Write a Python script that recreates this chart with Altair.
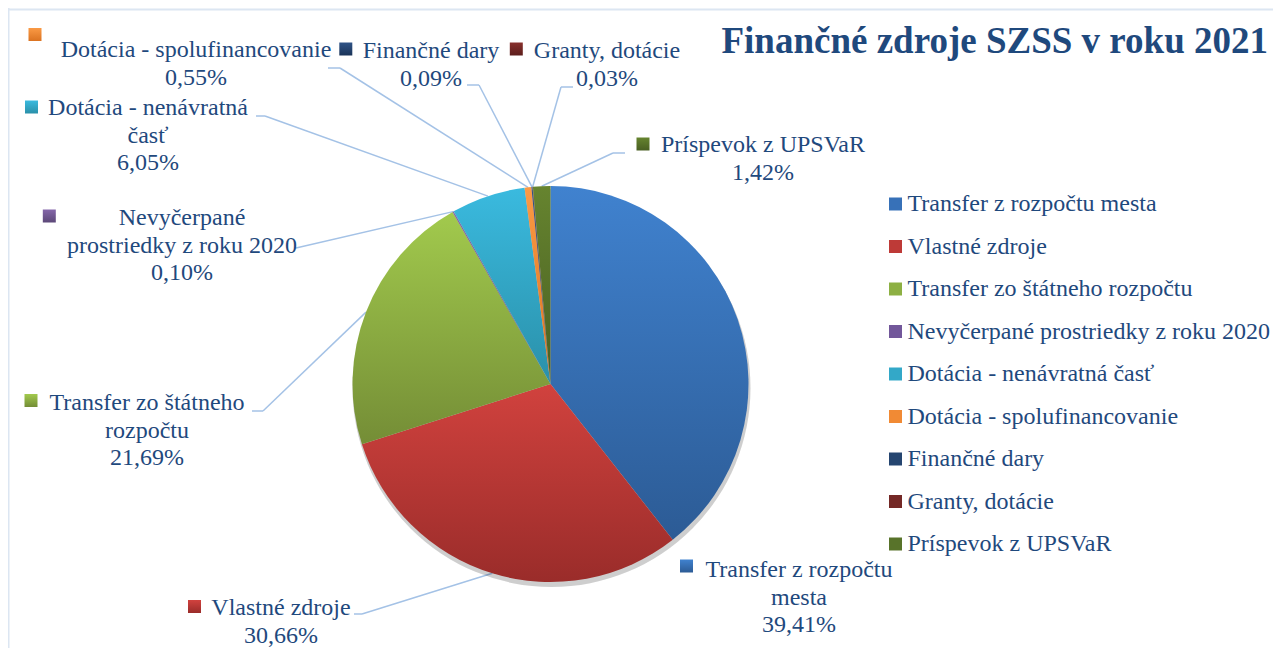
import altair as alt
import pandas as pd

# ---------------- data ----------------
categories = [
    "Transfer z rozpočtu mesta",
    "Vlastné zdroje",
    "Transfer zo štátneho rozpočtu",
    "Nevyčerpané prostriedky z roku 2020",
    "Dotácia - nenávratná časť",
    "Dotácia - spolufinancovanie",
    "Finančné dary",
    "Granty, dotácie",
    "Príspevok z UPSVaR",
]
shares = [39.41, 30.66, 21.69, 0.10, 6.05, 0.55, 0.09, 0.03, 1.42]
title_text = "Finančné zdroje SZSS v roku 2021"

# ---------------- styles ----------------
grad_top = ["#4082CF", "#D1423E", "#A2CA4D", "#8567AA", "#3ABADF", "#FA9A45", "#2F5387", "#88302D", "#66842F"]
grad_bottom = ["#2C5B95", "#9A2C2A", "#748D36", "#5C4878", "#2A90A9", "#DB7321", "#1A3358", "#5C1E1C", "#495F22"]
legend_colors = ["#3771B8", "#BE3A37", "#8DB043", "#72579A", "#33A8C8", "#F18A34", "#254570", "#742826", "#58732A"]
text_color = "#1F497D"
line_color = "#A4C2E6"
font = "Liberation Serif"
label_size = 24

# ---------------- layout (reference page pixels) ----------------
W, H = 1265, 640
cx, cy, R = 550.5, 384.0, 198.0
label_wrapped = [
    "Transfer z rozpočtu\nmesta",
    "Vlastné zdroje",
    "Transfer zo štátneho\nrozpočtu",
    "Nevyčerpané\nprostriedky z roku 2020",
    "Dotácia - nenávratná\nčasť",
    "Dotácia - spolufinancovanie",
    "Finančné dary",
    "Granty, dotácie",
    "Príspevok z UPSVaR",
]
label_x = [799, 281, 147, 182, 148, 196, 431, 607, 763]
label_y = [577, 615, 410, 225, 115, 57, 58, 58, 152]
key_x = [686.5, 194.5, 31, 49.3, 31.5, 35, 345.8, 516.3, 643]
key_y = [566, 606.5, 400.5, 216, 107, 34.5, 49, 49, 144]
elbow_x = [None, 362, 263, 296, 265, 340, 479, 561, 613]
elbow_y = [None, 614, 411, 248, 116, 68, 85, 87, 153]
end_x = [None, 354, 252, 296, 256, 328, 467, 573, 625]
end_y = [None, 614, 411, 248, 116, 68, 85, 87, 153]

df = pd.DataFrame({
    "idx": list(range(len(categories))),
    "cat": categories,
    "v": shares,
    "wrapped": label_wrapped,
    "lx": label_x, "ly": label_y,
    "kx": key_x, "ky": key_y,
    "bx": elbow_x, "by": elbow_y,
    "hx": end_x, "hy": end_y,
})

xs = alt.Scale(domain=[8, 8 + W], nice=False, zero=False)
ys = alt.Scale(domain=[8 + H, 8], nice=False, zero=False)

gradients = [
    {"gradient": "linear", "x1": 0, "y1": 0, "x2": 0, "y2": 1,
     "stops": [{"offset": 0, "color": t}, {"offset": 1, "color": b}]}
    for t, b in zip(grad_top, grad_bottom)
]
conds = [{"test": f"datum.idx === {i}", "value": g} for i, g in enumerate(gradients)]

fill_enc = alt.Fill(
    "cat:N",
    scale=alt.Scale(domain=categories, range=legend_colors),
    legend=alt.Legend(
        title=None, orient="none", legendX=875.5, legendY=184,
        labelFont=font, labelFontSize=label_size, labelColor=text_color, labelLimit=600,
        symbolType="square", symbolSize=169, symbolStrokeWidth=0,
        rowPadding=18.5, labelOffset=0, padding=0,
    ),
    condition=conds,
)

base = alt.Chart(df)

shadow_df = pd.DataFrame({"k": [0, 1], "dy": [3, 5], "op": [0.13, 0.07]})
shadow = alt.Chart(shadow_df).mark_arc(radius=R + 1, theta=0, theta2=6.2832, color="#000000").encode(
    x=alt.value(cx - 8 + 1),
    y=alt.value(cy - 8 + 4),
    opacity=alt.Opacity("op:Q", scale=None, legend=None),
)

pie = base.mark_arc(radius=R).encode(
    theta=alt.Theta("v:Q", stack=True),
    order=alt.Order("idx:Q"),
    x=alt.value(cx - 8),
    y=alt.value(cy - 8),
    fill=fill_enc,
)

# leader lines: start on the pie edge at each slice's mid-angle
edge = base.transform_joinaggregate(total="sum(v)").transform_window(
    cum="sum(v)", sort=[alt.SortField("idx")], frame=[None, 0]
).transform_calculate(
    mid="(datum.cum - datum.v/2) / datum.total * 2 * PI",
    ex=f"{cx} + {R} * sin(datum.mid)",
    ey=f"{cy} - {R} * cos(datum.mid)",
).transform_filter("isValid(datum.bx)")

lead1 = edge.mark_rule(color=line_color, strokeWidth=1.5).encode(
    x=alt.X("ex:Q", scale=xs, axis=None),
    y=alt.Y("ey:Q", scale=ys, axis=None),
    x2="bx:Q", y2="by:Q",
)
lead2 = edge.mark_rule(color=line_color, strokeWidth=1.5).encode(
    x=alt.X("bx:Q", scale=xs, axis=None),
    y=alt.Y("by:Q", scale=ys, axis=None),
    x2="hx:Q", y2="hy:Q",
)

labels = base.transform_calculate(
    label="datum.wrapped + '\\n' + replace(format(datum.v, '.2f'), '.', ',') + '%'"
).mark_text(
    font=font, fontSize=label_size, color=text_color, align="center",
    baseline="alphabetic", lineBreak="\n", lineHeight=27.5,
).encode(
    x=alt.X("lx:Q", scale=xs, axis=None),
    y=alt.Y("ly:Q", scale=ys, axis=None),
    text="label:N",
)

keys = base.mark_point(shape="square", size=169, filled=True, opacity=1, strokeWidth=0).encode(
    x=alt.X("kx:Q", scale=xs, axis=None),
    y=alt.Y("ky:Q", scale=ys, axis=None),
    fill=alt.Fill("cat:N", scale=alt.Scale(domain=categories, range=legend_colors),
                  legend=None, condition=conds),
)

title = alt.Chart(pd.DataFrame({"t": [title_text]})).mark_text(
    font=font, fontSize=37, fontWeight="bold", color=text_color,
    align="right", baseline="alphabetic",
).encode(x=alt.value(1268 - 8), y=alt.value(53 - 8), text="t:N")

frame_df = pd.DataFrame({"k": [0]})
border_top = alt.Chart(frame_df).mark_rule(color="#DCE6F2", strokeWidth=2).encode(
    x=alt.value(0), x2=alt.value(W), y=alt.value(1.5)
)
border_left = alt.Chart(frame_df).mark_rule(color="#DCE6F2", strokeWidth=2).encode(
    x=alt.value(0.5), y=alt.value(0), y2=alt.value(H)
)

chart = alt.layer(
    border_top, border_left, lead1, lead2, shadow, pie, keys, labels, title
).properties(
    width=W, height=H, autosize=alt.AutoSizeParams(type="none"), padding=0,
    background="white",
).configure_view(stroke=None)

chart.save("out.html", embed_options={"renderer": "svg", "actions": False})
